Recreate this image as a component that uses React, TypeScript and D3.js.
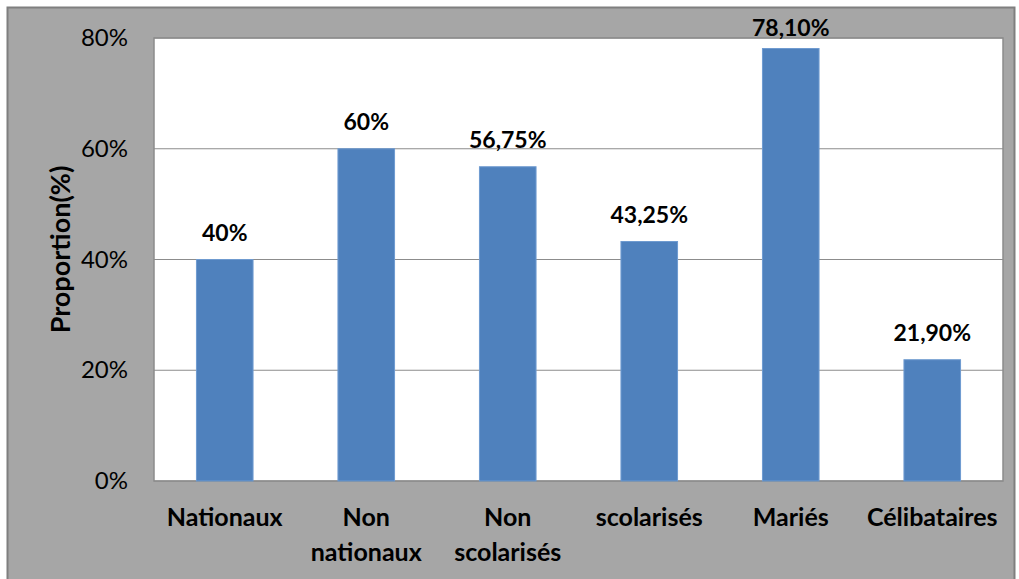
import { useEffect, useRef } from 'react';
import * as d3 from 'd3';

const categories = [['Nationaux'], ['Non', 'nationaux'], ['Non', 'scolarisés'], ['scolarisés'], ['Mariés'], ['Célibataires']];
const values = [40, 60, 56.75, 43.25, 78.1, 21.9];
const valueLabels = ['40%', '60%', '56,75%', '43,25%', '78,10%', '21,90%'];
const yTicks = [0, 20, 40, 60, 80];

function App() {
    const svgRef = useRef<SVGSVGElement>(null);

    useEffect(() => {
        const svg = d3.select(svgRef.current);
        svg.selectAll('*').remove();

        const font = 'Lato, "Open Sans", sans-serif';
        const left = 154, right = 1003, top = 38, bottom = 481;

        // outer chart area
        svg.append('rect')
            .attr('x', 7.5).attr('y', 7.5)
            .attr('width', 1007).attr('height', 575)
            .attr('fill', '#a6a6a6')
            .attr('stroke', '#7f7f7f')
            .attr('stroke-width', 2);

        // plot area
        svg.append('rect')
            .attr('x', left).attr('y', top)
            .attr('width', right - left).attr('height', bottom - top)
            .attr('fill', '#ffffff')
            .attr('stroke', '#8c8c8c')
            .attr('stroke-width', 1.5);

        const x = d3.scaleBand()
            .domain(categories.map((_, i) => String(i)))
            .range([left, right])
            .paddingInner(0.6)
            .paddingOuter(0.3);

        const y = d3.scaleLinear().domain([0, 80]).range([bottom, top]);

        const g = svg.append('g');

        // gridlines
        g.selectAll('line.grid')
            .data(yTicks)
            .enter().append('line')
            .attr('x1', left).attr('x2', right)
            .attr('y1', d => y(d)).attr('y2', d => y(d))
            .attr('stroke', '#8c8c8c')
            .attr('stroke-width', 1.2);

        // tick labels
        g.selectAll('text.tick')
            .data(yTicks)
            .enter().append('text')
            .attr('x', 128)
            .attr('y', d => y(d) + 8)
            .attr('text-anchor', 'end')
            .attr('font-family', font)
            .attr('font-size', 24)
            .attr('fill', '#000')
            .text(d => d + '%');

        // bars
        g.selectAll('rect.bar')
            .data(values)
            .enter().append('rect')
            .attr('x', (_, i) => x(String(i))!)
            .attr('y', d => y(d))
            .attr('width', x.bandwidth())
            .attr('height', d => bottom - y(d))
            .attr('fill', '#4f81bd')
            .attr('stroke', '#6f9bd0')
            .attr('stroke-width', 1);

        // data labels (kept inside the chart area at the top)
        g.selectAll('text.val')
            .data(values)
            .enter().append('text')
            .attr('x', (_, i) => x(String(i))! + x.bandwidth() / 2)
            .attr('y', d => Math.max(y(d) - 19, 36))
            .attr('text-anchor', 'middle')
            .attr('font-family', font)
            .attr('font-weight', 'bold')
            .attr('font-size', 23)
            .attr('fill', '#000')
            .text((_, i) => valueLabels[i]);

        // category labels
        categories.forEach((lines, i) => {
            const cx = x(String(i))! + x.bandwidth() / 2;
            const t = g.append('text')
                .attr('text-anchor', 'middle')
                .attr('font-family', font)
                .attr('font-weight', 'bold')
                .attr('font-size', 25)
                .attr('fill', '#000');
            lines.forEach((line, j) => {
                t.append('tspan')
                    .attr('x', cx)
                    .attr('y', 526 + j * 35)
                    .text(line);
            });
        });

        // y axis title
        svg.append('text')
            .attr('transform', `translate(70,${(top + bottom) / 2 - 10}) rotate(-90)`)
            .attr('text-anchor', 'middle')
            .attr('font-family', font)
            .attr('font-weight', 'bold')
            .attr('font-size', 27)
            .attr('fill', '#000')
            .text('Proportion(%)');
    }, []);

    return (
        <svg
            ref={svgRef}
            width="1019"
            height="579"
            style={{ position: 'absolute', left: 0, top: 0, background: '#ffffff' }}
        />
    );
}

export default App;
